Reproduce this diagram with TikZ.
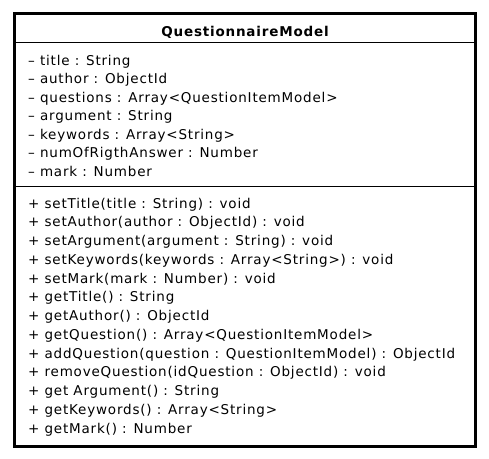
\documentclass[tikz,border=0pt]{standalone}
\usepackage{fontspec}
\setmainfont{DejaVu Sans}[LetterSpace=6]
\begin{document}
\begin{tikzpicture}[x=1pt,y=-1pt,
  member/.style={anchor=base west,inner sep=0pt,font=\fontsize{13.5}{15}\selectfont},
  classname/.style={anchor=base,inner sep=0pt,font=\fontsize{13.5}{15}\selectfont\bfseries},
  frame/.style={draw=black,line width=3pt},
  divider/.style={draw=black,line width=1pt}]
\useasboundingbox (0,0) rectangle (489,458);
\fill[white] (0,0) rectangle (489,458);
% class box
\draw[frame] (14.5,13.5) rectangle (475.5,446.5);
\draw[divider] (16,42) -- (474,42);
\draw[divider] (16,186) -- (474,186);
\node[classname] (name) at (245,36) {QuestionnaireModel};
% attributes
\foreach \t [count=\i from 0] in {%
  – title : String,
  – author : ObjectId,
  – questions : Array<QuestionItemModel>,
  – argument : String,
  – keywords : Array<String>,
  – numOfRigthAnswer : Number,
  – mark : Number}
  \node[member] (attr\i) at (28,65+18.5*\i) {\t};
% operations
\foreach \t [count=\i from 0] in {%
  + setTitle(title : String) : void,
  + setAuthor(author : ObjectId) : void,
  + setArgument(argument : String) : void,
  + setKeywords(keywords : Array<String>) : void,
  + setMark(mark : Number) : void,
  + getTitle() : String,
  + getAuthor() : ObjectId,
  + getQuestion() : Array<QuestionItemModel>,
  + addQuestion(question : QuestionItemModel) : ObjectId,
  + removeQuestion(idQuestion : ObjectId) : void,
  + get Argument() : String,
  + getKeywords() : Array<String>,
  + getMark() : Number}
  \node[member] (op\i) at (28,208+18.75*\i) {\t};
\end{tikzpicture}
\end{document}
